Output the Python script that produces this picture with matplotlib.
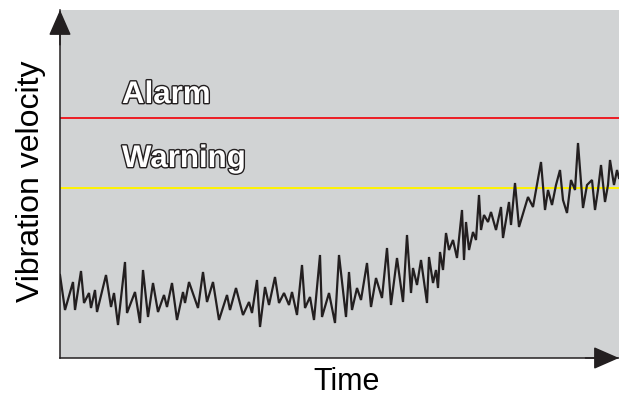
import matplotlib
matplotlib.use("Agg")
import matplotlib.pyplot as plt
import matplotlib.patheffects as pe

# sample times and vibration readings (arbitrary units)
time = [0, 5, 13, 15, 21, 24, 29, 31, 35, 37, 46, 51, 54, 58, 65, 67, 75, 80, 83, 88, 93,
        98, 104, 107, 112, 117, 123, 125, 129, 138, 143, 147, 153, 159, 167, 170, 176, 183,
        189, 192, 197, 200, 205, 209, 215, 219, 224, 229, 232, 237, 242, 245, 250, 254, 260,
        262, 269, 275,
        279, 286, 289, 292, 297, 301, 307, 311, 316, 322, 327, 331, 337, 343, 347, 351, 353,
        357, 361, 367,
        369, 373, 376, 378, 380, 383, 386, 389, 393, 397, 402, 404, 406, 409, 413, 416, 419,
        421, 424, 428, 431, 436, 441, 443, 449, 451, 455, 459,
        468, 473, 481, 485, 488, 492, 496, 500, 503, 507, 511, 515, 518, 523, 527, 532, 535,
        538, 541, 545, 548, 550, 554, 557, 559]
velocity = [83, 48, 76, 48, 87, 55, 65, 50, 68, 46, 83, 51, 65, 33, 96, 45, 66, 35, 88, 41, 75,
            46, 63, 51, 75, 38, 66, 55, 76, 50, 86, 56, 76, 38, 63, 48, 70, 43,
            56, 45, 78, 31, 71, 53, 81, 55, 65, 53, 66, 43, 93, 50, 61, 38, 103,
            41, 65, 35,
            103, 41, 86, 48, 70, 58, 95, 51, 80, 60, 110, 53, 100, 56, 123, 65, 90,
            73, 98, 55,
            101, 75, 88, 70, 106, 88, 125, 108, 118, 100, 148, 98, 136, 108, 126, 118, 163,
            128, 143, 136, 146, 128, 151, 120, 156, 133, 175, 131,
            161, 151, 196, 148, 168, 153, 173, 188, 158, 145, 178, 168, 215, 150, 173, 178, 148,
            168, 193, 156, 173, 198, 173, 188, 180]

alarm_level = 240
warning_level = 170

dark = "#231f20"

fig = plt.figure(figsize=(6.19, 4.0), dpi=100)
ax = fig.add_axes([60 / 619, 42 / 400, 559 / 619, 348 / 400])
ax.set_facecolor("#d1d3d4")

# threshold lines
ax.axhline(alarm_level, color="#ed1c24", lw=1.4)
ax.axhline(warning_level, color="#fff200", lw=1.4)

# measured signal
ax.plot(time, velocity, color=dark, lw=1.6, solid_joinstyle="miter")

# outlined labels
outline = [pe.withStroke(linewidth=2.0, foreground=dark)]
ax.text(62, 255, "Alarm", fontsize=22.5, fontweight="bold", family="Liberation Sans",
        color="white", va="baseline", path_effects=outline)
ax.text(62, 191, "Warning", fontsize=22.5, fontweight="bold", family="Liberation Sans",
        color="white", va="baseline", path_effects=outline)

ax.set_xlim(0, 559)
ax.set_ylim(0, 348)
ax.set_xticks([])
ax.set_yticks([])
for side in ["top", "right"]:
    ax.spines[side].set_visible(False)
for side in ["left", "bottom"]:
    ax.spines[side].set_color(dark)
    ax.spines[side].set_linewidth(1.1)

# arrow heads on the axes
head = dict(arrowstyle="-|>,head_length=1.6,head_width=0.7", color=dark, lw=1.1,
            mutation_scale=10, shrinkA=0, shrinkB=0)
ax.annotate("", xy=(0, 1), xytext=(0, 0.9), xycoords="axes fraction",
            arrowprops=head, annotation_clip=False)
ax.annotate("", xy=(1, 0), xytext=(0.94, 0), xycoords="axes fraction",
            arrowprops=head, annotation_clip=False)

ax.set_xlabel("Time", fontsize=22, family="Liberation Sans")
ax.set_ylabel("Vibration velocity", fontsize=23, family="Liberation Sans")
ax.xaxis.set_label_coords(0.512, -0.026)
ax.yaxis.set_label_coords(-0.025, 0.509)

fig.savefig("out.png", dpi=100)
